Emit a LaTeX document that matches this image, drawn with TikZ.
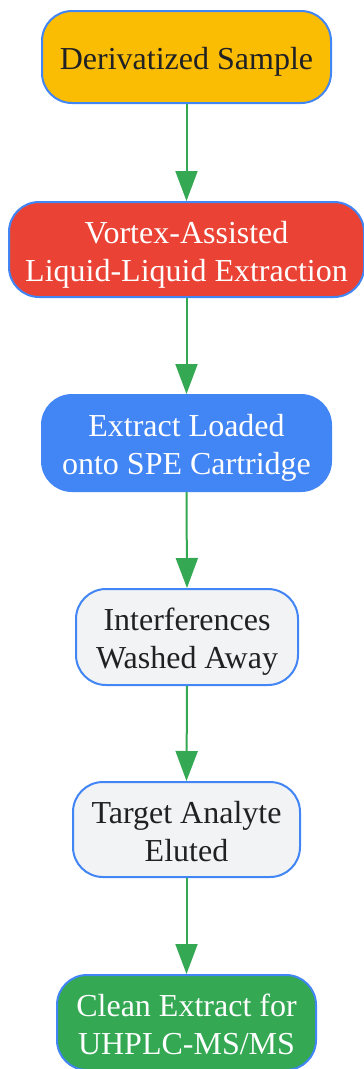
\documentclass[tikz,border=0pt]{standalone}
\usepackage{fontspec}
\setmainfont{Liberation Serif}
\usetikzlibrary{arrows.meta}
\definecolor{gorange}{HTML}{FBBC04}
\definecolor{gred}{HTML}{EA4335}
\definecolor{gblue}{HTML}{4285F4}
\definecolor{ggray}{HTML}{F1F3F4}
\definecolor{ggreen}{HTML}{34A853}
\definecolor{gtext}{HTML}{202124}
\newcommand\boxlbl[1]{\raisebox{-5pt}[\height][\depth]{\begin{tabular}{@{}c@{}}#1\end{tabular}}}
\tikzset{
  box/.style={draw=gblue, line width=2pt, rounded corners=30pt, align=center, inner sep=0pt,
    font=\fontsize{32}{38}\selectfont},
  flow/.style={draw=ggreen, line width=2pt, -{Triangle[length=30pt,width=22pt]}}
}
\begin{document}
\begin{tikzpicture}[x=1pt,y=1pt]
\useasboundingbox (0,0) rectangle (364,-1069);
\node[box, fill=gorange, text=gtext, minimum width=289pt, minimum height=92pt] (n1) at (186.5,-57) {\boxlbl{Derivatized Sample}};
\node[box, fill=gred, text=white, minimum width=355pt, minimum height=95pt] (n2) at (186.5,-249.5) {\boxlbl{Vortex-Assisted\\Liquid-Liquid Extraction}};
\node[box, fill=gblue, text=white, minimum width=289pt, minimum height=96pt] (n3) at (186.5,-443) {\boxlbl{Extract Loaded\\onto SPE Cartridge}};
\node[box, fill=ggray, text=gtext, minimum width=222pt, minimum height=96pt] (n4) at (187,-637) {\boxlbl{Interferences\\Washed Away}};
\node[box, fill=ggray, text=gtext, minimum width=227pt, minimum height=95pt] (n5) at (186.5,-829.5) {\boxlbl{Target Analyte\\Eluted}};
\node[box, fill=ggreen, text=white, minimum width=259pt, minimum height=95pt] (n6) at (186.5,-1022.5) {\boxlbl{Clean Extract for\\UHPLC-MS/MS}};
\draw[flow] (n1.south) -- (n2.north);
\draw[flow] (n2.south) -- (n3.north);
\draw[flow] (n3.south) -- (n4.north);
\draw[flow] (n4.south) -- (n5.north);
\draw[flow] (n5.south) -- (n6.north);
\end{tikzpicture}
\end{document}
